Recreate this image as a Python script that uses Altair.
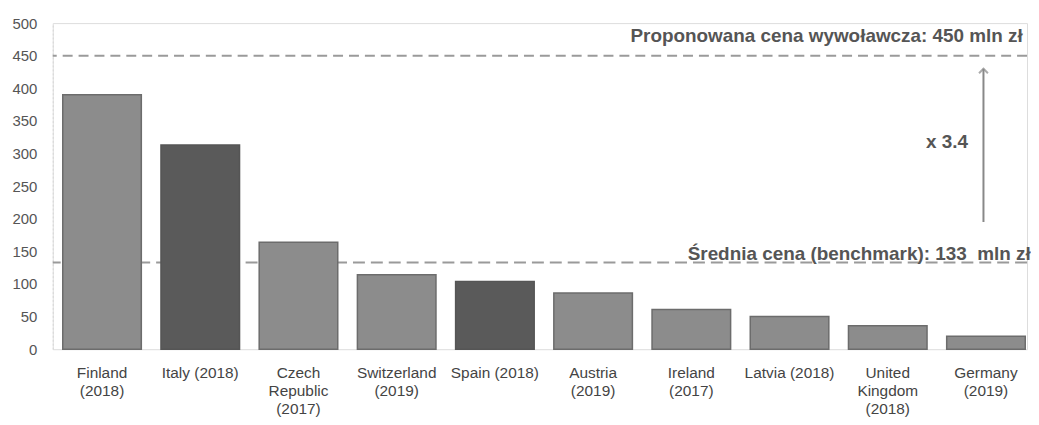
import altair as alt
import pandas as pd

countries = ["Finland|(2018)", "Italy (2018)", "Czech|Republic|(2017)", "Switzerland|(2019)",
             "Spain (2018)", "Austria|(2019)", "Ireland|(2017)", "Latvia (2018)",
             "United|Kingdom|(2018)", "Germany|(2019)"]
values = [390, 313, 164, 114, 104, 86, 61, 50, 36, 20]
highlight = [False, True, False, False, True, False, False, False, False, False]
y_ticks = [0, 50, 100, 150, 200, 250, 300, 350, 400, 450, 500]

proposed = 450
benchmark = 133
ratio_label = "x 3.4"
proposed_label = "Proponowana cena wywoławcza: 450 mln zł"
benchmark_label = "Średnia cena (benchmark): 133\u00a0\u00a0mln zł"

df = pd.DataFrame({"country": countries, "value": values, "hl": highlight})
last = countries[-1]

xaxis = alt.Axis(title=None, labelAngle=0, labelExpr="split(datum.label, '|')",
                 labelLineHeight=18.5, labelFontSize=15.5, labelColor="#444",
                 labelFont="Liberation Sans", labelPadding=16,
                 ticks=False, domain=False, labelOverlap=False)
xscale = alt.Scale(paddingInner=0.2, paddingOuter=0.06, align=0.85)
yaxis = alt.Axis(title=None, values=y_ticks, grid=False, ticks=False,
                 labelFontSize=15, labelColor="#555", labelFont="Liberation Sans",
                 labelPadding=16, domainColor="#d8d8d8", domainDash=[2, 2],
                 labelOverlap=False)
yscale = alt.Scale(domain=[0, 500])


def X(field="country:N"):
    return alt.X(field, sort=countries, scale=xscale, axis=xaxis)


def Y(field):
    return alt.Y(field, scale=yscale, axis=yaxis)


bench_rule = alt.Chart(pd.DataFrame({"v": [benchmark]})).mark_rule(
    color="#9a9a9a", strokeWidth=2, strokeDash=[12, 6]).encode(y=Y("v:Q"))

bars = alt.Chart(df).mark_bar(strokeWidth=1.5).encode(
    x=X(),
    y=Y("value:Q"),
    color=alt.condition("datum.hl", alt.value("#5a5a5a"), alt.value("#8c8c8c")),
    stroke=alt.condition("datum.hl", alt.value("#555555"), alt.value("#6c6c6c")),
)

prop_rule = alt.Chart(pd.DataFrame({"v": [proposed]})).mark_rule(
    color="#9a9a9a", strokeWidth=2, strokeDash=[10, 6]).encode(y=Y("v:Q"))

ann = pd.DataFrame({"country": [last, last], "v": [480, 146], "t": [proposed_label, benchmark_label]})
ann_text1 = alt.Chart(ann.iloc[[0]]).mark_text(
    align="right", baseline="middle", fontWeight="bold", fontSize=19, color="#555",
    font="Liberation Sans", dx=37).encode(x=X(), y=Y("v:Q"), text="t:N")
ann_text2 = alt.Chart(ann.iloc[[1]]).mark_text(
    align="right", baseline="middle", fontWeight="bold", fontSize=19, color="#555",
    font="Liberation Sans", dx=45).encode(x=X(), y=Y("v:Q"), text="t:N")

arrow_df = pd.DataFrame({"country": [last], "y1": [195], "y2": [430], "lab": [ratio_label], "ly": [317]})
arrow = alt.Chart(arrow_df).mark_rule(color="#888", strokeWidth=2).encode(
    x=X(), xOffset=alt.value(37), y=Y("y1:Q"), y2="y2:Q")
head = alt.Chart(arrow_df).mark_point(
    shape="M -1 1 L 0 0 L 1 1", filled=False, size=80, color="#888", strokeWidth=2).encode(
    x=X(), xOffset=alt.value(37), y=Y("y2:Q"))
ratio = alt.Chart(arrow_df).mark_text(
    align="right", baseline="middle", fontWeight="bold", fontSize=19, color="#555",
    font="Liberation Sans", dx=-18).encode(x=X(), y=Y("ly:Q"), text="lab:N")

chart = alt.layer(bench_rule, bars, prop_rule, ann_text1, ann_text2, arrow, head, ratio).properties(
    width=980, height=328,
    autosize=alt.AutoSizeParams(type="none"),
    padding={"left": 45, "top": 14, "right": 4, "bottom": 67},
).configure_view(stroke=None).configure(background="white")

chart.save("out.html", embed_options={"renderer": "svg", "actions": False})
